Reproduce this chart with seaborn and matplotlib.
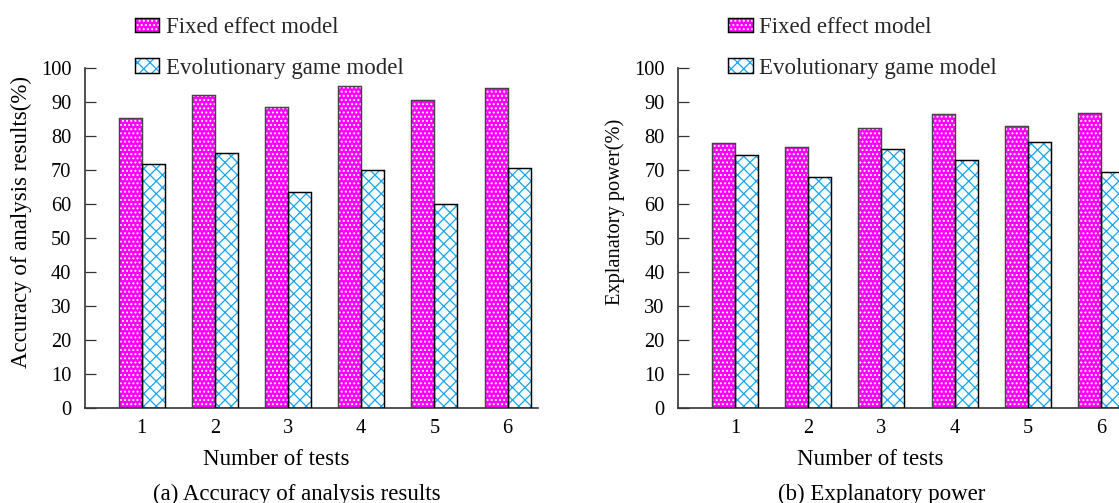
import pandas as pd
import numpy as np
import matplotlib
matplotlib.use("Agg")
import matplotlib.pyplot as plt
from matplotlib.patches import Patch, Rectangle
import seaborn as sns

# -----------------------------
# DATA
# -----------------------------
tests = [1, 2, 3, 4, 5, 6]
models = ["Fixed effect model", "Evolutionary game model"]

acc_fixed = [85.3, 92.0, 88.3, 94.5, 90.4, 93.9]
acc_evo = [71.8, 74.9, 63.5, 69.8, 60.0, 70.6]

exp_fixed = [78.0, 76.8, 82.4, 86.3, 82.9, 86.7]
exp_evo = [74.3, 67.9, 76.2, 73.0, 78.1, 69.4]

panels = [
    ("Accuracy of analysis results(%)", "(a) Accuracy of analysis results", acc_fixed, acc_evo),
    ("Explanatory power(%)", "(b) Explanatory power", exp_fixed, exp_evo),
]

# -----------------------------
# STYLE
# -----------------------------
sns.set_theme(style="white")
plt.rcParams["font.family"] = ["Liberation Serif", "DejaVu Serif"]
plt.rcParams["hatch.linewidth"] = 0.6
FS = 11
FS_TICK = 9.8

MAGENTA = "#FF00FF"
CYAN = "#12A5F5"
styles = [
    dict(face=MAGENTA, hatch="......", hcol="white", edge="#444444"),
    dict(face="white", hatch="xxxx", hcol=CYAN, edge="black"),
]

W, H, DPI = 1119, 503, 150
fig = plt.figure(figsize=(W / DPI, H / DPI), dpi=DPI)

ax_left_px = [84.7, 678.0]
ax_w_px, ax_h_px, ax_bottom_px = 453.6, 340.0, 503 - 407.7
caption_x_px = [297, 882]
ylabel_fs = [11, 9.8]
ylabel_y = [0.546, 0.576]

for k, (ylabel, caption, fixed, evo) in enumerate(panels):
    ax = fig.add_axes([ax_left_px[k] / W, ax_bottom_px / H, ax_w_px / W, ax_h_px / H])

    df = pd.DataFrame({
        "test": tests * 2,
        "value": fixed + evo,
        "model": [models[0]] * len(tests) + [models[1]] * len(tests),
    })
    sns.barplot(data=df, x="test", y="value", hue="model", hue_order=models,
                width=0.63, ax=ax, legend=False, errorbar=None)

    # hatch colour follows edgecolor, so outlines are drawn on top separately
    for cont, st in zip(ax.containers, styles):
        for p in cont:
            p.set_facecolor(st["face"])
            p.set_hatch(st["hatch"])
            p.set_edgecolor(st["hcol"])
            p.set_linewidth(0)
            ax.add_patch(Rectangle(p.get_xy(), p.get_width(), p.get_height(),
                                   fill=False, edgecolor=st["edge"], linewidth=0.7, zorder=3))

    ax.set_xlim(-0.78, 5.42)
    ax.set_ylim(0, 100)
    ax.set_yticks(np.arange(0, 101, 10))

    for s in ["top", "right"]:
        ax.spines[s].set_visible(False)
    for s in ["left", "bottom"]:
        ax.spines[s].set_color("#333333")
        ax.spines[s].set_linewidth(0.8)

    ax.tick_params(axis="y", direction="in", length=5.1, width=0.6, color="#333333",
                   pad=6.4, labelsize=FS_TICK, labelcolor="black", left=True)
    ax.tick_params(axis="x", length=0, pad=5.5, labelsize=FS_TICK, labelcolor="black")

    ax.set_xlabel("Number of tests", fontsize=FS, color="black")
    ax.xaxis.set_label_coords(0.423, -0.151)
    ax.xaxis.label.set_va("center")
    ax.set_ylabel(ylabel, fontsize=ylabel_fs[k], color="black")
    ax.yaxis.set_label_coords(-0.139, ylabel_y[k])
    ax.yaxis.label.set_va("center")

    handles = []
    for st in styles:
        fill = Patch(facecolor=st["face"], hatch=st["hatch"], edgecolor=st["hcol"], linewidth=0)
        outline = Patch(facecolor="none", edgecolor="black", linewidth=0.7)
        handles.append((fill, outline))
    ax.legend(handles, models, loc="upper left", bbox_to_anchor=(0.111, 1.149),
              frameon=False, borderpad=0, borderaxespad=0, fontsize=FS,
              handlelength=1.06, handleheight=0.6, handletextpad=0.29,
              labelspacing=0.85)

    fig.text(caption_x_px[k] / W, (H - 494) / H, caption, fontsize=FS,
             ha="center", va="center", color="black")

fig.savefig("out.png", dpi=DPI)
